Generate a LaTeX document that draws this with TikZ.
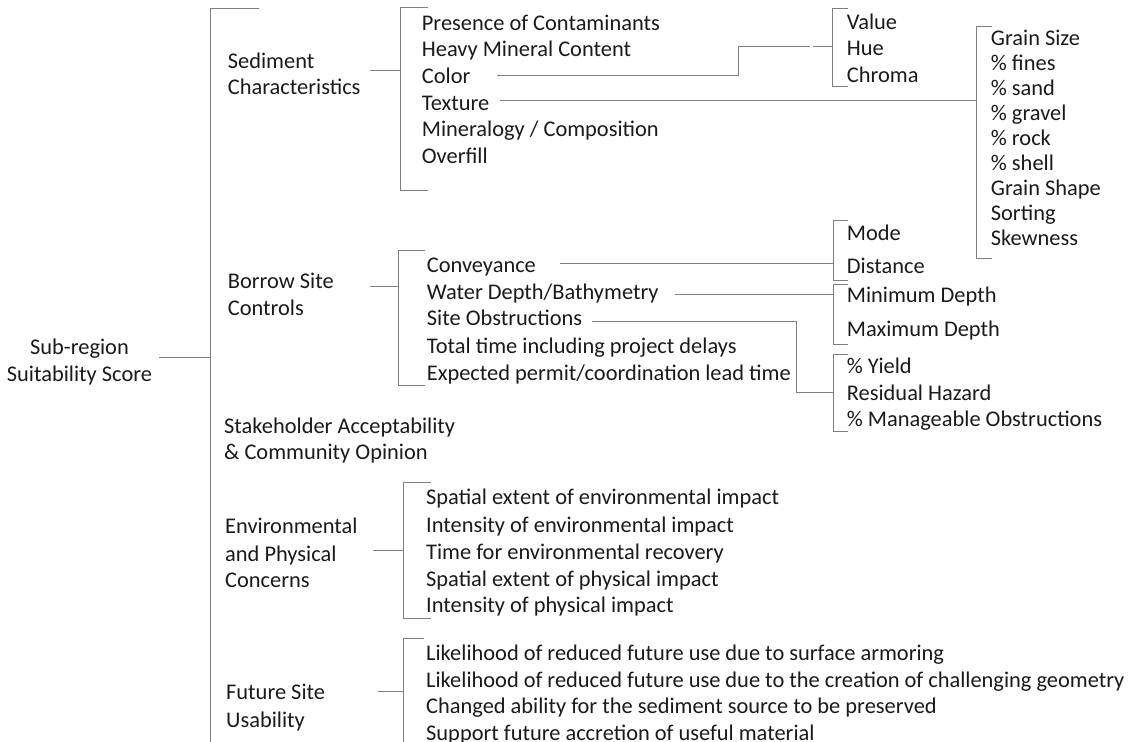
\documentclass[tikz,border=0pt]{standalone}
\usepackage{fontspec}
\setmainfont{Carlito}
\definecolor{textc}{HTML}{1A1A1A}
\definecolor{linec}{HTML}{7F7F7F}
\begin{document}
\begin{tikzpicture}[x=1pt,y=-1pt,
  txt/.style={anchor=base west,inner sep=0pt,text=textc,font=\fontsize{22.4}{26}\selectfont},
  ctxt/.style={txt,anchor=base},
  ln/.style={draw=linec,line width=1pt}]
\useasboundingbox (0,0) rectangle (1128,742);
\clip (0,0) rectangle (1128,742);

% ---------- root ----------
\node[ctxt] (sub1) at (79.5,354) {Sub-region};
\node[ctxt] (sub2) at (79.5,381) {Suitability Score};
\coordinate (rootR) at (159.3,357.7);
\coordinate (mainV) at (210.7,357.7);
\coordinate (mainTop) at (210.7,8);
\coordinate (mainTopR) at (259,8);
\coordinate (mainBot) at (210.7,750);
\draw[ln] (rootR) -- (mainV);
\draw[ln] (mainTopR) -- (mainTop) -- (mainBot);

% ---------- Sediment Characteristics ----------
\node[txt] (sed1) at (227.7,68.3) {Sediment};
\node[txt] (sed2) at (227.7,94.3) {Characteristics};
\node[txt] (pres) at (421.7,30) {Presence of Contaminants};
\node[txt] (heavy) at (421.7,56.7) {Heavy Mineral Content};
\node[txt] (color) at (421.7,83.4) {Color};
\node[txt] (texture) at (421.7,110.1) {Texture};
\node[txt] (miner) at (421.7,136.8) {Mineralogy / Composition};
\node[txt] (overfill) at (421.7,163.5) {Overfill};
\coordinate (sedA) at (370,70.7);
\coordinate (sedB) at (400,70.7);
\draw[ln] (sedA) -- (sedB);
\draw[ln] (428,7) -- (400,7) -- (400,190.7) -- (428,190.7);

% Color -> Value/Hue/Chroma
\node[txt] (value) at (846.7,29) {Value};
\node[txt] (hue) at (846.7,55) {Hue};
\node[txt] (chroma) at (846.7,82) {Chroma};
\coordinate (colA) at (496.7,75);
\coordinate (colB) at (738,46.7);
\coordinate (colC) at (810,46.7);
\coordinate (colD) at (813,46.7);
\coordinate (colE) at (832.7,46.7);
\draw[ln] (colA) -| (colB) -- (colC);
\draw[ln] (colD) -- (colE);
\draw[ln] (848,8.3) -- (832.7,8.3) -- (832.7,86) -- (848,86);

% Texture -> grain list
\node[txt] (gsize) at (990.7,45) {Grain Size};
\node[txt] (fines) at (990.7,70.1) {\% fines};
\node[txt] (sand) at (990.7,95.2) {\% sand};
\node[txt] (gravel) at (990.7,120.3) {\% gravel};
\node[txt] (rock) at (990.7,145.4) {\% rock};
\node[txt] (shell) at (990.7,170.5) {\% shell};
\node[txt] (gshape) at (990.7,195.6) {Grain Shape};
\node[txt] (sorting) at (990.7,220.7) {Sorting};
\node[txt] (skew) at (990.7,245.8) {Skewness};
\coordinate (texA) at (500,100);
\coordinate (texB) at (976,100);
\draw[ln] (texA) -- (texB);
\draw[ln] (991.7,26) -- (976,26) -- (976,258) -- (991.7,258);

% ---------- Borrow Site Controls ----------
\node[txt] (bor1) at (227.7,288.5) {Borrow Site};
\node[txt] (bor2) at (227.7,315) {Controls};
\node[txt] (conv) at (426.7,272) {Conveyance};
\node[txt] (water) at (426.7,299) {Water Depth/Bathymetry};
\node[txt] (obstr) at (426.7,325.7) {Site Obstructions};
\node[txt] (total) at (426.7,353) {Total time including project delays};
\node[txt] (permit) at (426.7,380) {Expected permit/coordination lead time};
\coordinate (borA) at (370,286.7);
\coordinate (borB) at (398.3,286.7);
\draw[ln] (borA) -- (borB);
\draw[ln] (425,250) -- (398.3,250) -- (398.3,385.7) -- (425,385.7);

% Conveyance -> Mode/Distance
\node[txt] (mode) at (846.7,240) {Mode};
\node[txt] (dist) at (846.7,273) {Distance};
\coordinate (convA) at (560,263);
\coordinate (convB) at (833.3,263);
\draw[ln] (convA) -- (convB);
\draw[ln] (848,220) -- (833.3,220) -- (833.3,280) -- (848,280);

% Water depth -> Min/Max
\node[txt] (mind) at (846.7,302.7) {Minimum Depth};
\node[txt] (maxd) at (846.7,336.7) {Maximum Depth};
\coordinate (watA) at (675,294.3);
\coordinate (watB) at (833.3,294.3);
\draw[ln] (watA) -- (watB);
\draw[ln] (848,284.3) -- (833.3,284.3) -- (833.3,344.3) -- (848,344.3);

% Site obstructions -> Yield etc.
\node[txt] (yield) at (846.7,373.3) {\% Yield};
\node[txt] (resid) at (846.7,400) {Residual Hazard};
\node[txt] (manage) at (846.7,426) {\% Manageable Obstructions};
\coordinate (obsA) at (591.7,321.7);
\coordinate (obsB) at (796.7,392.7);
\coordinate (obsC) at (833.3,392.7);
\draw[ln] (obsA) -| (obsB) -- (obsC);
\draw[ln] (848,354.3) -- (833.3,354.3) -- (833.3,431.7) -- (848,431.7);

% ---------- Stakeholder ----------
\node[txt] (stk1) at (224,433.3) {Stakeholder Acceptability};
\node[txt] (stk2) at (224,459.3) {\& Community Opinion};

% ---------- Environmental ----------
\node[txt] (env1) at (225,533.7) {Environmental};
\node[txt] (env2) at (225,561) {and Physical};
\node[txt] (env3) at (225,587.7) {Concerns};
\node[txt] (e1) at (426,504.7) {Spatial extent of environmental impact};
\node[txt] (e2) at (426,532) {Intensity of environmental impact};
\node[txt] (e3) at (426,559.3) {Time for environmental recovery};
\node[txt] (e4) at (426,586) {Spatial extent of physical impact};
\node[txt] (e5) at (426,612.7) {Intensity of physical impact};
\coordinate (envA) at (372.7,550.3);
\coordinate (envB) at (403.3,550.3);
\draw[ln] (envA) -- (envB);
\draw[ln] (430.7,482.7) -- (403.3,482.7) -- (403.3,618.7) -- (430.7,618.7);

% ---------- Future Site Usability ----------
\node[txt] (fut1) at (226,699.3) {Future Site};
\node[txt] (fut2) at (226,727) {Usability};
\node[txt] (f1) at (426,660.3) {Likelihood of reduced future use due to surface armoring};
\node[txt] (f2) at (426,687) {Likelihood of reduced future use due to the creation of challenging geometry};
\node[txt] (f3) at (426,713.7) {Changed ability for the sediment source to be preserved};
\node[txt] (f4) at (426,740.5) {Support future accretion of useful material};
\coordinate (futA) at (378.3,691.3);
\coordinate (futB) at (403.3,691.3);
\draw[ln] (futA) -- (futB);
\draw[ln] (424,638) -- (403.3,638) -- (403.3,750);
\end{tikzpicture}
\end{document}
